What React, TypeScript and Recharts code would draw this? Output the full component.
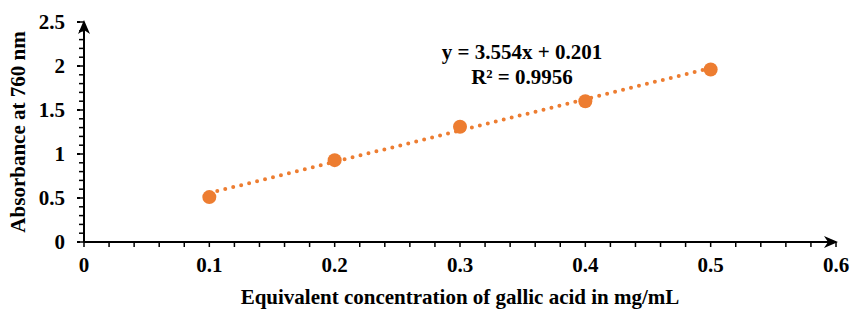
import { ComposedChart, Line, Scatter, XAxis, YAxis, Label } from 'recharts';

const concentration = [0.1, 0.2, 0.3, 0.4, 0.5];
const absorbance = [0.51, 0.93, 1.31, 1.6, 1.96];

// trendline endpoints
const trendX = [0.1, 0.5];
const trendY = [0.556, 1.978];

const xMajorLabels = ['0', '0.1', '0.2', '0.3', '0.4', '0.5', '0.6'];
const yMajorLabels = ['0', '0.5', '1', '1.5', '2', '2.5'];

const equation = 'y = 3.554x + 0.201';
const rSquared = 'R² = 0.9956';

const ORANGE = '#ED7D31';
const FONT = '"Liberation Serif", "Times New Roman", serif';
const FS = 21;

const points = concentration.map((x, i) => ({ x, y: absorbance[i] }));
const trend = trendX.map((x, i) => ({ x, trend: trendY[i] }));

// minor ticks: x every 0.02, y every 0.1
const xTicks = Array.from({ length: 31 }, (_, i) => Math.round(i * 2) / 100);
const yTicks = Array.from({ length: 26 }, (_, i) => Math.round(i * 10) / 100);

const fmtX = (v: number) => {
  const lbl = xMajorLabels.find((l) => Math.abs(parseFloat(l) - v) < 1e-6);
  return lbl ?? '';
};
const fmtY = (v: number) => {
  const lbl = yMajorLabels.find((l) => Math.abs(parseFloat(l) - v) < 1e-6);
  return lbl ?? '';
};

const YTick = (props: any) => {
  const { x, y, payload } = props;
  const lbl = fmtY(payload.value);
  return (
    <g>
      {lbl !== '' && (
        <line x1={x + 12} x2={x + 15} y1={y} y2={y} stroke="#000" strokeWidth={2} />
      )}
      {lbl !== '' && (
        <text x={x} y={y} dy="0.34em" textAnchor="end" fontFamily={FONT} fontWeight="bold" fontSize={FS} fill="#000">
          {lbl}
        </text>
      )}
    </g>
  );
};

const XTick = (props: any) => {
  const { x, y, payload } = props;
  const lbl = fmtX(payload.value);
  if (lbl === '') return <g />;
  return (
    <text x={x} y={y} dy="0.68em" textAnchor="middle" fontFamily={FONT} fontWeight="bold" fontSize={FS} fill="#000">
      {lbl}
    </text>
  );
};

const YTitle = (props: any) => {
  const { viewBox } = props;
  const cy = viewBox.y + viewBox.height / 2;
  return (
    <text
      x={25}
      y={cy}
      transform={`rotate(-90, 25, ${cy})`}
      textAnchor="middle"
      fontFamily={FONT}
      fontWeight="bold"
      fontSize={FS}
      fill="#000"
    >
      Absorbance at 760 nm
    </text>
  );
};

const XTitle = (props: any) => {
  const { viewBox } = props;
  const cx = viewBox.x + viewBox.width / 2;
  return (
    <text x={cx} y={304} textAnchor="middle" fontFamily={FONT} fontWeight="bold" fontSize={FS} fill="#000">
      Equivalent concentration of gallic acid in mg/mL
    </text>
  );
};

export default function App() {
  return (
    <div style={{ position: 'fixed', left: 0, top: 0, width: 851, height: 310, background: '#fff' }}>
      <svg width={0} height={0} style={{ position: 'absolute' }}>
        <defs>
          <marker
            id="axisArrow"
            viewBox="0 0 14 12"
            markerWidth={14}
            markerHeight={12}
            refX={12}
            refY={6}
            orient="auto-start-reverse"
            markerUnits="userSpaceOnUse"
          >
            <path d="M0,0 L14,6 L0,12 L4,6 Z" fill="#000" />
          </marker>
        </defs>
      </svg>
      <ComposedChart
        width={851}
        height={310}
        data={trend}
        margin={{ top: 22, right: 15, left: 0, bottom: 0 }}
      >
        <XAxis
          type="number"
          dataKey="x"
          domain={[0, 0.6]}
          ticks={xTicks}
          interval={0}
          height={68}
          tickSize={5}
          tickMargin={11}
          tick={<XTick />}
          tickLine={{ stroke: '#000', strokeWidth: 1.5 }}
          axisLine={{ stroke: '#000', strokeWidth: 2, markerEnd: 'url(#axisArrow)' }}
          allowDataOverflow
        >
          <Label content={<XTitle />} />
        </XAxis>
        <YAxis
          type="number"
          domain={[0, 2.5]}
          ticks={yTicks}
          interval={0}
          width={84}
          tickSize={5}
          tickMargin={14}
          tick={<YTick />}
          tickLine={{ stroke: '#000', strokeWidth: 1.5 }}
          axisLine={{ stroke: '#000', strokeWidth: 2, markerStart: 'url(#axisArrow)' }}
          allowDataOverflow
        >
          <Label content={<YTitle />} />
        </YAxis>
        <Line
          data={trend}
          dataKey="trend"
          stroke={ORANGE}
          strokeWidth={4}
          strokeDasharray="0 8.2"
          strokeLinecap="round"
          dot={false}
          activeDot={false}
          isAnimationActive={false}
        />
        <Scatter data={points} dataKey="y" fill={ORANGE} shape={(p: any) => <circle cx={p.cx} cy={p.cy} r={7} fill={ORANGE} />} isAnimationActive={false} />
      </ComposedChart>
      <div
        style={{
          position: 'absolute',
          left: 422,
          top: 40,
          width: 200,
          textAlign: 'center',
          fontFamily: FONT,
          fontWeight: 'bold',
          fontSize: FS,
          lineHeight: '25px',
          color: '#000',
        }}
      >
        <div>{equation}</div>
        <div>{rSquared}</div>
      </div>
    </div>
  );
}
